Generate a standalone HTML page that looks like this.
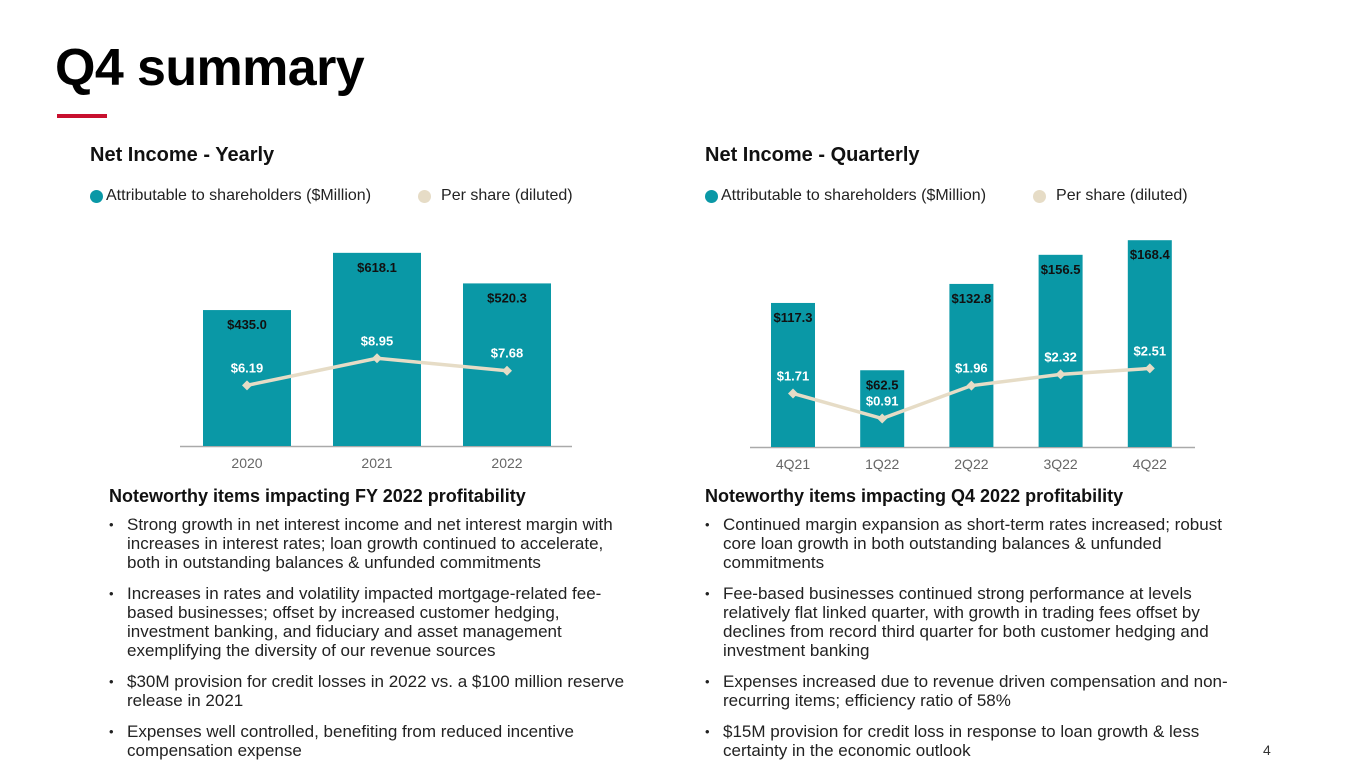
<!DOCTYPE html>
<html><head><meta charset="utf-8">
<style>
body{margin:0;width:1365px;height:769px;background:#fff;font-family:"Liberation Sans",sans-serif;color:#222;position:relative;overflow:hidden}
.abs{position:absolute}
h1{position:absolute;left:55px;top:38px;margin:0;font-size:52px;font-weight:bold;color:#000;letter-spacing:-0.6px}
.red{left:57px;top:114px;width:50px;height:4px;background:#c8102e}
.h2{font-size:20px;font-weight:bold;color:#111}
.leg{font-size:16px;color:#222;display:flex;align-items:center;white-space:nowrap}
.dot{width:13px;height:13px;border-radius:50%;display:inline-block;margin-right:3px}
.h3{font-size:18px;font-weight:bold;color:#111}
ul{margin:0;padding:0;list-style:none;font-size:17px;line-height:19px;color:#222}
li{position:relative;padding-left:18px;margin-bottom:12px}
li:before{content:"•";position:absolute;left:0;top:0;font-size:13px}
</style></head><body>
<h1>Q4 summary</h1>
<div class="abs red"></div>

<div class="abs h2" style="left:90px;top:144px">Net Income - Yearly</div>
<div class="abs leg" style="left:90px;top:187px"><span class="dot" style="background:#0a98a6"></span>Attributable to shareholders ($Million)<span class="dot" style="background:#e6dcc6;margin-left:47px;margin-right:10px"></span>Per share (diluted)</div>

<div class="abs h2" style="left:705px;top:144px">Net Income - Quarterly</div>
<div class="abs leg" style="left:705px;top:187px"><span class="dot" style="background:#0a98a6"></span>Attributable to shareholders ($Million)<span class="dot" style="background:#e6dcc6;margin-left:47px;margin-right:10px"></span>Per share (diluted)</div>

<svg class="abs" style="left:0;top:0" width="1365" height="480" id="charts"></svg>

<div class="abs h3" style="left:109px;top:486px">Noteworthy items impacting FY 2022 profitability</div>
<ul class="abs" style="left:109px;top:515px;width:526px">
<li>Strong growth in net interest income and net interest margin with increases in interest rates; loan growth continued to accelerate, both in outstanding balances &amp; unfunded commitments</li>
<li>Increases in rates and volatility impacted mortgage-related fee-based businesses; offset by increased customer hedging, investment banking, and fiduciary and asset management exemplifying the diversity of our revenue sources</li>
<li>$30M provision for credit losses in 2022 vs. a $100 million reserve release in 2021</li>
<li>Expenses well controlled, benefiting from reduced incentive compensation expense</li>
</ul>
<div class="abs h3" style="left:705px;top:486px">Noteworthy items impacting Q4 2022 profitability</div>
<ul class="abs" style="left:705px;top:515px;width:526px">
<li>Continued margin expansion as short-term rates increased; robust core loan growth in both outstanding balances &amp; unfunded commitments</li>
<li>Fee-based businesses continued strong performance at levels relatively flat linked quarter, with growth in trading fees offset by declines from record third quarter for both customer hedging and investment banking</li>
<li>Expenses increased due to revenue driven compensation and non-recurring items; efficiency ratio of 58%</li>
<li>$15M provision for credit loss in response to loan growth &amp; less certainty in the economic outlook</li>
</ul>
<div class="abs" style="left:1263px;top:742px;font-size:14px;color:#333">4</div>

<script>
const yearCats=["2020","2021","2022"];
const yearIncome=[435.0,618.1,520.3];
const yearEps=[6.19,8.95,7.68];
const qCats=["4Q21","1Q22","2Q22","3Q22","4Q22"];
const qIncome=[117.3,62.5,132.8,156.5,168.4];
const qEps=[1.71,0.91,1.96,2.32,2.51];

const NS="http://www.w3.org/2000/svg";
const svg=document.getElementById('charts');
function mk(tag,attrs,parent){const e=document.createElementNS(NS,tag);for(const k in attrs)e.setAttribute(k,attrs[k]);(parent||svg).appendChild(e);return e;}
function txt(x,y,s,fill,size,weight,parent){const t=mk('text',{x:x,y:y,fill:fill,'font-size':size,'font-weight':weight,'text-anchor':'middle','font-family':'Liberation Sans, sans-serif'},parent);t.textContent=s;return t;}

function drawChart(o){
  const g=mk('g',{});
  
  
  const yBar=v=>o.base-v*o.barScale;
  const yLine=v=>o.base-v*o.lineScale;
  const xC=i=>o.x0+o.step*i;
  const axis=mk('line',{x1:o.ax1,x2:o.ax2,y1:o.base+0.5,y2:o.base+0.5,stroke:'#aaa','stroke-width':1.5},g);
  
  
  o.cats.forEach((c,i)=>{
    const r=mk('rect',{x:xC(i)-o.bw/2,y:yBar(o.inc[i]),width:o.bw,height:o.inc[i]*o.barScale,fill:'#0a98a6'},g);
    
    
    const l=txt(xC(i),yBar(o.inc[i])+19,'$'+o.inc[i].toFixed(1),'#111',13,'bold',g);
    
    
    const t=txt(xC(i),o.base+22,c,'#666',14,'normal',g);
    
    
  });
  const pts=o.eps.map((v,i)=>xC(i)+','+yLine(v)).join(' ');
  const pl=mk('polyline',{points:pts,fill:'none',stroke:'#e6dcc6','stroke-width':3.5},g);
  
  
  o.eps.forEach((v,i)=>{
    const x=xC(i),y=yLine(v);
    const d=mk('polygon',{points:`${x},${y-5} ${x+5},${y} ${x},${y+5} ${x-5},${y}`,fill:'#e6dcc6'},g);
    
    
    const l=txt(x,y-13,'$'+v.toFixed(2),'#fff',13,'bold',g);
    
    
  });
}
drawChart({name:'yearly-chart',cats:yearCats,inc:yearIncome,eps:yearEps,base:446,barScale:0.3125,lineScale:9.8,x0:247,step:130,bw:88,ax1:180,ax2:572});
drawChart({name:'quarterly-chart',cats:qCats,inc:qIncome,eps:qEps,base:447,barScale:1.228,lineScale:31.3,x0:793,step:89.2,bw:44,ax1:750,ax2:1195});
</script>
</body></html>
